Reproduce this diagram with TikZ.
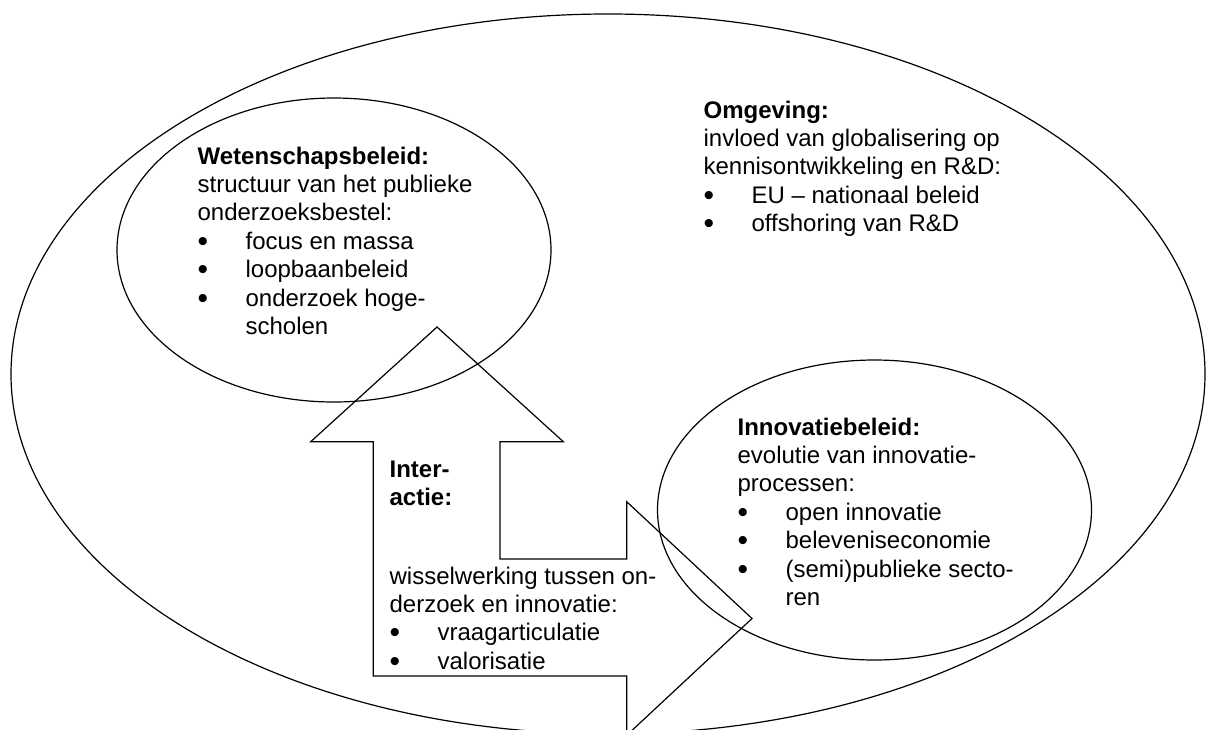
\documentclass[tikz,border=0pt]{standalone}
\usepackage{fontspec}
\setmainfont{Liberation Sans}
\newcommand{\itm}{\makebox[24pt][l]{\raisebox{-1pt}{\fontsize{15}{15}\selectfont\textbullet}}}
\newcommand{\cnt}{\hspace*{24pt}}
\begin{document}
\begin{tikzpicture}[x=0.5pt,y=-0.5pt,line width=0.6pt,
  txt/.style={anchor=base west,inner sep=0pt,font=\fontsize{12}{14.2}\selectfont}]
\useasboundingbox (0,0) rectangle (1209,729);

% the three fields
\draw (608,374) ellipse [x radius=298.5pt, y radius=180pt];
\draw (334,250) ellipse [x radius=108.5pt, y radius=76pt];
\draw (874.5,510) ellipse [x radius=108.5pt, y radius=75pt];

% double arrow
\draw (437,327) -- (563.3,441.7) -- (500,441.7) -- (500,559) -- (626.7,559)
  -- (626.7,501.7) -- (752,618.5) -- (626.7,735.3) -- (626.7,676)
  -- (373.3,676) -- (373.3,441.7) -- (310.7,441.7) -- cycle;

\node[txt] (wet) at (197,164) {\begin{tabular}[t]{@{}l@{}}
  \textbf{Wetenschapsbeleid:}\\structuur van het publieke\\onderzoeksbestel:\\
  \itm focus en massa\\\itm loopbaanbeleid\\\itm onderzoek hoge-\\\cnt scholen\end{tabular}};

\node[txt] (omg) at (703,118) {\begin{tabular}[t]{@{}l@{}}
  \textbf{Omgeving:}\\invloed van globalisering op\\kennisontwikkeling en R\&D:\\
  \itm EU – nationaal beleid\\\itm offshoring van R\&D\end{tabular}};

\node[txt] (inno) at (737,435) {\begin{tabular}[t]{@{}l@{}}
  \textbf{Innovatiebeleid:}\\evolutie van innovatie-\\processen:\\
  \itm open innovatie\\\itm beleveniseconomie\\\itm (semi)publieke secto-\\\cnt ren\end{tabular}};

\node[txt] (inter) at (389,477) {\begin{tabular}[t]{@{}l@{}}
  \textbf{Inter-}\\\textbf{actie:}\end{tabular}};
\node[txt] (wissel) at (389,584) {\begin{tabular}[t]{@{}l@{}}
  wisselwerking tussen on-\\derzoek en innovatie:\\
  \itm vraagarticulatie\\\itm valorisatie\end{tabular}};

\end{tikzpicture}
\end{document}
